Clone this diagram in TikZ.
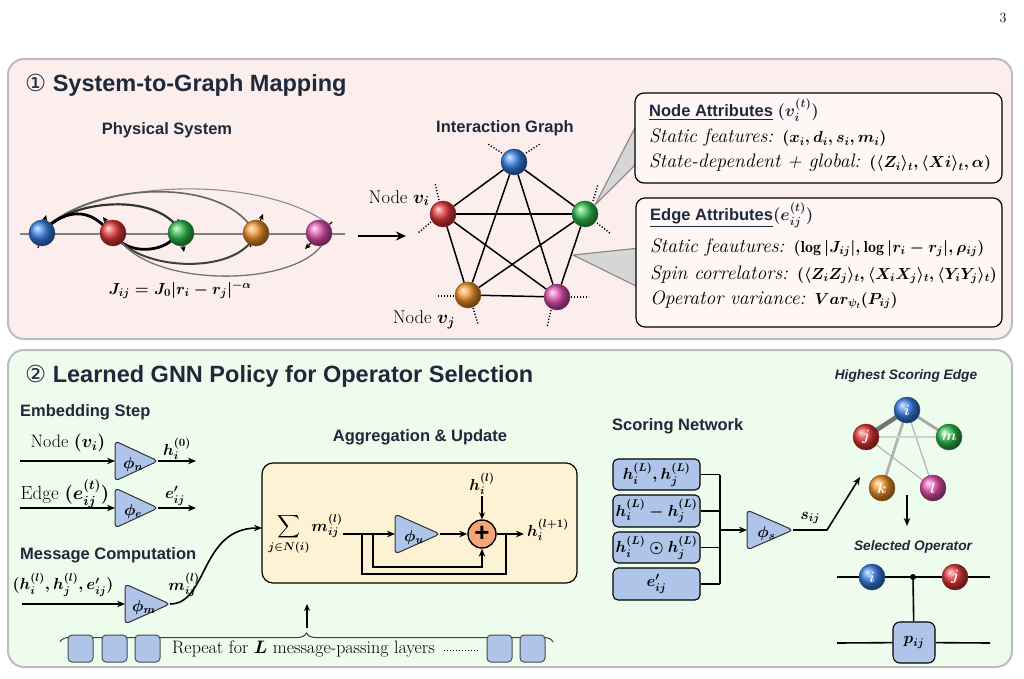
\RequirePackage{fix-cm}
\documentclass[tikz,border=0pt]{standalone}
\usepackage{amsmath,amssymb}
\usepackage{fontspec}
\newfontfamily\hdfont{Liberation Sans}
\newfontfamily\circfont{DejaVu Sans}
\usetikzlibrary{arrows.meta,calc,decorations.pathreplacing}
\pgfdeclarelayer{back}
\pgfdeclarelayer{bg}
\pgfsetlayers{back,bg,main}
\definecolor{pinkbg}{HTML}{FDEEEE}
\definecolor{pinkbox}{HTML}{FFF6F6}
\definecolor{greenbg}{HTML}{EEFCEE}
\definecolor{yellowbg}{HTML}{FDF3D4}
\definecolor{bluebox}{HTML}{AEC4E8}
\definecolor{orangeplus}{HTML}{F4A478}
\definecolor{headc}{HTML}{1E293B}
\definecolor{panelborder}{HTML}{BDBDBD}
\definecolor{blueS}{HTML}{3A80E6}
\definecolor{redS}{HTML}{E63838}
\definecolor{greenS}{HTML}{30BE4C}
\definecolor{orangeS}{HTML}{F2932A}
\definecolor{magS}{HTML}{E452B0}
\newcommand{\mth}[1]{{\fontsize{16}{19}\selectfont\boldmath$#1$}}
\tikzset{
  panelA/.style={rounded corners=16pt, fill=pinkbg, draw=panelborder, line width=2pt},
  panelB/.style={rounded corners=16pt, fill=greenbg, draw=panelborder, line width=2pt},
  ttl/.style={inner sep=0pt, anchor=west, text=headc, font=\hdfont\bfseries\fontsize{23.5}{27}\selectfont},
  hdtxt/.style={inner sep=0pt, text=headc, font=\hdfont\bfseries\fontsize{16.5}{19}\selectfont},
  ithd/.style={inner sep=0pt, text=headc, font=\hdfont\bfseries\itshape\fontsize{13.7}{16}\selectfont},
  rmtxt/.style={inner sep=0pt, font=\fontsize{18}{21}\selectfont\boldmath},
  mtxt/.style={inner sep=0pt, font=\fontsize{16}{19}\selectfont\boldmath},
  itx/.style={inner sep=0pt, anchor=west, font=\fontsize{19.5}{22}\selectfont\itshape},
  sph/.style={circle, inner sep=0pt, minimum size=26pt, ball color=#1, draw=#1!55!black, line width=0.5pt},
  slabel/.style={text=white, font=\fontsize{15}{15}\selectfont\boldmath},
  conn/.style={line width=1.6pt, -{Stealth[length=8pt,width=6.5pt]}},
  plain/.style={line width=1.6pt},
  gedge/.style={line width=1.5pt},
  stub/.style={line width=1.4pt, dash pattern=on 1.2pt off 1.8pt},
  spin/.style={line width=1.1pt, -{Stealth[length=6pt,width=5.5pt]}},
  gatestyle/.style={fill=bluebox, draw=black!80, line width=1pt, rounded corners=4pt},
  attbox/.style={rounded corners=9pt, fill=pinkbox, draw=black, line width=1.2pt},
  scbox/.style={rounded corners=5pt, fill=bluebox, draw=black, line width=1.1pt, inner sep=0pt, minimum width=87pt, font=\fontsize{16}{19}\selectfont\boldmath},
  sq/.style={rounded corners=4pt, fill=bluebox, draw=black!70, line width=1pt, minimum width=25pt, minimum height=27pt, inner sep=0pt},
  wedge/.style={fill=black!16, draw=black!45, line width=1.2pt, line join=round},
}
\newcommand{\gate}[5]{%
  \coordinate (#1-in) at (#2,#3);
  \coordinate (#1-out) at (#2+#4,#3);
  \draw[gatestyle] (#2,#3-20) -- (#2+#4,#3) -- (#2,#3+20) -- cycle;
  \node[mtxt] (#1) at (#2+0.42*#4,#3+3) {#5};
}
\begin{document}
\begin{tikzpicture}[x=1pt,y=-1pt]
\useasboundingbox (0,0) rectangle (1024,679);
\begin{pgfonlayer}{back}
\fill[white] (0,0) rectangle (1024,679);
\draw[panelA] (8,59) rectangle (1012,339);
\draw[panelB] (8,350) rectangle (1012,667);
\end{pgfonlayer}
\node[font=\fontsize{14}{14}\selectfont, inner sep=0pt] (pg) at (1003,18) {3};

% ---------- titles ----------
\node[ttl] (t1) at (25,85) {{\circfont\mdseries ①} System-to-Graph Mapping};
\node[ttl] (t2) at (25,376) {{\circfont\mdseries ②} Learned GNN Policy for Operator Selection};

% ---------- physical system ----------
\node[hdtxt] (phys) at (167,130) {Physical System};
\coordinate (axa) at (20,234);
\coordinate (axb) at (345,234);
\node[sph=blueS] (pb) at (42,233) {};
\node[sph=redS] (pr) at (113,233) {};
\node[sph=greenS] (pgr) at (181,233) {};
\node[sph=orangeS] (po) at (256,233) {};
\node[sph=magS] (pm) at (319,233) {};
\begin{pgfonlayer}{bg}
\draw[black!50, line width=1.3pt] (axa) -- (axb);
\draw[spin] ($(pb)+(-4,15)$) -- ($(pb)+(4,-18)$);
\draw[spin] ($(pr)+(10,12)$) -- ($(pr)+(-10,-16)$);
\draw[spin] ($(pgr)+(-3,-14)$) -- ($(pgr)+(3,19)$);
\draw[spin] ($(po)+(-6,14)$) -- ($(po)+(7,-19)$);
\draw[spin] ($(pm)+(13,-11)$) -- ($(pm)+(-14,16)$);
\draw[black!45, line width=1.1pt] (50,224) .. controls (110,178) and (265,176) .. (330,225);
\draw[black!60, line width=1.6pt] (50,224) .. controls (100,184) and (212,178) .. (249,224);
\draw[black!80, line width=2.2pt] (50,224) .. controls (82,200) and (148,196) .. (174,223);
\draw[black, line width=2.8pt] (50,225) .. controls (66,212) and (86,208) .. (104,226);
\draw[black, line width=2.8pt] (121,242) .. controls (135,253) and (160,251) .. (172,240);
\draw[black!75, line width=2pt] (121,242) .. controls (150,270) and (226,272) .. (250,243);
\draw[black!55, line width=1.3pt] (121,242) .. controls (160,288) and (292,286) .. (322,245);
\end{pgfonlayer}
\node[mtxt] (jform) at (180,290) {$J_{ij}=J_0|r_i-r_j|^{-\alpha}$};
\coordinate (ba) at (358,236);
\coordinate (bb) at (406,236);
\draw[line width=2.6pt, -{Stealth[length=10pt,width=9pt]}] (ba) -- (bb);

% ---------- interaction graph ----------
\node[hdtxt] (igr) at (505,128) {Interaction Graph};
\node[sph=blueS] (g1) at (514,162) {};
\node[sph=redS] (g2) at (443,214) {};
\node[sph=greenS] (g3) at (585,214) {};
\node[sph=orangeS] (g4) at (468,295) {};
\node[sph=magS] (g5) at (557,297) {};
\foreach \a/\b in {g1/g2,g1/g3,g1/g4,g1/g5,g2/g3,g2/g4,g2/g5,g3/g4,g3/g5,g4/g5}
  \draw[gedge] (\a) -- (\b);
\draw[stub] ($(g1)+(-12,-9)$) -- ($(g1)+(-26,-18)$);
\draw[stub] ($(g1)+(12,-9)$) -- ($(g1)+(26,-18)$);
\draw[stub] ($(g2)+(-4,-14)$) -- ($(g2)+(-8,-31)$);
\draw[stub] ($(g2)+(-12,8)$) -- ($(g2)+(-25,19)$);
\draw[stub] ($(g3)+(8,-13)$) -- ($(g3)+(13,-30)$);
\draw[stub] ($(g3)+(12,9)$) -- ($(g3)+(26,20)$);
\draw[stub] ($(g4)+(-14,1)$) -- ($(g4)+(-31,1)$);
\draw[stub] ($(g4)+(5,13)$) -- ($(g4)+(10,29)$);
\draw[stub] ($(g5)+(14,0)$) -- ($(g5)+(32,0)$);
\draw[stub] ($(g5)+(-6,13)$) -- ($(g5)+(-10,30)$);
\node[rmtxt, font=\fontsize{18.5}{21}\selectfont\boldmath] (nvi) at (399,198) {Node $v_i$};
\node[rmtxt, font=\fontsize{18.5}{21}\selectfont\boldmath] (nvj) at (424,320) {Node $v_j$};

% ---------- attribute boxes ----------
\coordinate (wa) at (595,205);
\coordinate (wb) at (573,255);
\path[wedge] (wa) -- (640,118) -- (640,160) -- cycle;
\path[wedge] (wb) -- (640,248) -- (640,288) -- cycle;
\node[attbox, minimum width=367pt, minimum height=90pt] (nab) at (818.5,138) {};
\node[attbox, minimum width=366pt, minimum height=129pt] (eab) at (819,262.5) {};
\node[hdtxt, anchor=west] (nah) at (649,110) {\underline{Node Attributes}\ {\fontsize{17}{19}\selectfont\boldmath$(v_i^{(t)})$}};
\node[itx] (na1) at (649,138) {Static features: \mth{(x_i,d_i,s_i,m_i)}};
\node[itx] (na2) at (649,163) {State-dependent + global: \mth{(\langle Z_i\rangle_t,\langle Xi\rangle_t,\alpha)}};
\node[hdtxt, anchor=west] (eah) at (650,215) {\underline{Edge Attributes}{\fontsize{17}{19}\selectfont\boldmath$(e_{ij}^{(t)})$}};
\node[itx] (ea1) at (650,248) {Static feautures: \mth{(\log|J_{ij}|,\log|r_i-r_j|,\rho_{ij})}};
\node[itx] (ea2) at (650,275) {Spin correlators: \mth{(\langle Z_iZ_j\rangle_t,\langle X_iX_j\rangle_t,\langle Y_iY_j\rangle_t)}};
\node[itx] (ea3) at (650,300) {Operator variance: \mth{Var_{\psi_t}(P_{ij})}};

% ---------- embedding ----------
\node[hdtxt, anchor=west] (emb) at (20,412) {Embedding Step};
\node[rmtxt] (nodein) at (68,443) {Node $(v_i)$};
\coordinate (nin) at (20,461);
\gate{phin}{115}{461}{43}{$\phi_n$}
\coordinate (nout) at (196,461);
\draw[conn] (nin) -- (phin-in);
\draw[conn] (phin-out) -- (nout);
\node[mtxt] (h0) at (177,449) {$h_i^{(0)}$};

\node[rmtxt, font=\fontsize{19}{22}\selectfont\boldmath] (edgein) at (65,494) {Edge $(e_{ij}^{(t)})$};
\coordinate (ein) at (20,508);
\gate{phie}{115}{508}{43}{$\phi_e$}
\coordinate (eout) at (196,508);
\draw[conn] (ein) -- (phie-in);
\draw[conn] (phie-out) -- (eout);
\node[mtxt] (ep) at (175,496) {$e'_{ij}$};

\node[hdtxt, anchor=west] (msg) at (20,555) {Message Computation};
\node[mtxt] (msgin) at (63,585) {$(h_i^{(l)},h_j^{(l)},e'_{ij})$};
\coordinate (min) at (22,604);
\gate{phim}{125}{604}{45}{$\phi_m$}
\draw[conn] (min) -- (phim-in);
\node[mtxt] (mij) at (184,585) {$m_{ij}^{(l)}$};

% ---------- aggregation ----------
\node[hdtxt] (aggt) at (420,437) {Aggregation \& Update};
\node[rounded corners=11pt, fill=yellowbg, draw=black, line width=1.2pt, minimum width=315pt, minimum height=120pt] (agg) at (419.5,523) {};
\coordinate (aggin) at (262,528);
\draw[conn] (phim-out) .. controls (208,604) and (200,528) .. (aggin);
\node[mtxt] (sum) at (289,534) {$\displaystyle\sum_{j\in N(i)}$};
\node[mtxt] (magg) at (327,526) {$m_{ij}^{(l)}$};
\coordinate (ms) at (343,534);
\gate{phiu}{395}{534}{45}{$\phi_u$}
\node[circle, fill=orangeplus, draw=black, line width=1.4pt, minimum size=28pt, inner sep=0pt, font=\hdfont\bfseries\fontsize{26}{26}\selectfont] (plus) at (482,534) {\raisebox{1pt}{+}};
\draw[conn] (ms) -- (phiu-in);
\draw[conn] (phiu-out) -- (plus);
\node[mtxt] (hil) at (482,484) {$h_i^{(l)}$};
\coordinate (hilb) at (482,496);
\draw[line width=1.4pt, -{Stealth[length=7pt,width=6pt]}] (hilb) -- (plus.north);
\coordinate (hout) at (524,534);
\draw[conn] (plus) -- (hout);
\node[mtxt, anchor=west] (hnext) at (527,530) {$h_i^{(l+1)}$};
\coordinate (l1a) at (373,534);
\coordinate (l1b) at (373,567);
\coordinate (l1c) at (482,567);
\draw[conn] (l1a) -- (l1b) -- (l1c) -- (plus.south);
\coordinate (l2a) at (362,534);
\coordinate (l2b) at (362,574);
\coordinate (l2c) at (506,574);
\coordinate (l2d) at (506,534);
\draw[plain] (l2a) -- (l2b) -- (l2c) -- (l2d);

% ---------- repeat bar ----------
\coordinate (br1) at (60,642);
\coordinate (br2) at (553,642);
\draw[decorate, decoration={brace, amplitude=9pt}, line width=1pt, draw=black!75] (br1) -- (br2);
\coordinate (rpa) at (307,628);
\coordinate (rpb) at (307,604);
\draw[line width=1.4pt, -{Stealth[length=7pt,width=6pt]}] (rpa) -- (rpb);
\node[sq] (s1) at (80.5,648.5) {};
\node[sq] (s2) at (114.5,648.5) {};
\node[sq] (s3) at (147.5,648.5) {};
\node[sq] (s4) at (499.5,648.5) {};
\node[sq] (s5) at (532.5,648.5) {};
\node[rmtxt, anchor=west] (rpt) at (172,649) {Repeat for $L$ message-passing layers};
\coordinate (dt1) at (444,650);
\coordinate (dt2) at (480,650);
\draw[line width=0.9pt, dash pattern=on 0.9pt off 2.1pt] (dt1) -- (dt2);

% ---------- scoring network ----------
\node[hdtxt, anchor=west] (scn) at (612,426) {Scoring Network};
\node[scbox, minimum height=31pt] (b1) at (656.5,474.5) {$h_i^{(L)}, h_j^{(L)}$};
\node[scbox, minimum height=32pt] (b2) at (656.5,511) {$h_i^{(L)} - h_j^{(L)}$};
\node[scbox, minimum height=31pt] (b3) at (656.5,547.5) {$h_i^{(L)}\odot h_j^{(L)}$};
\node[scbox, minimum height=32pt] (b4) at (656.5,584) {$e'_{ij}$};
\coordinate (bus1) at (720,474.5);
\coordinate (bus2) at (720,511);
\coordinate (bus3) at (720,547.5);
\coordinate (bus4) at (720,584);
\coordinate (busm) at (720,530);
\draw[plain] (b1.east) -- (bus1);
\draw[plain] (b2.east) -- (bus2);
\draw[plain] (b3.east) -- (bus3);
\draw[plain] (b4.east) -- (bus4);
\draw[plain] (bus1) -- (bus4);
\gate{phis}{747}{530}{46}{$\phi_s$}
\draw[conn] (busm) -- (phis-in);
\coordinate (sbend) at (827,530);
\coordinate (sarr) at (860,477);
\draw[conn] (phis-out) -- (sbend) -- (sarr);
\node[mtxt] (sij) at (810,518) {$s_{ij}$};

% ---------- highest scoring edge ----------
\node[ithd] (hse) at (906,376) {Highest Scoring Edge};
\node[sph=blueS, slabel] (hi) at (907,410) {$i$};
\node[sph=redS, slabel] (hj) at (866,437) {$j$};
\node[sph=greenS, slabel] (hm) at (949,437) {$m$};
\node[sph=orangeS, slabel] (hk) at (882,488) {$k$};
\node[sph=magS, slabel] (hl) at (933,488) {$l$};
\begin{pgfonlayer}{bg}
\draw[black!55, line width=4.5pt] (hi.center) -- (hj.center);
\draw[black!35, line width=2.8pt] (hi.center) -- (hm.center);
\draw[black!30, line width=2.8pt] (hi.center) -- (hk.center);
\draw[black!28, line width=1.3pt] (hi.center) -- (hl.center);
\draw[black!18, line width=1.1pt] (hj.center) -- (hm.center);
\draw[black!30, line width=1.1pt] (hj.center) -- (hl.center);
\end{pgfonlayer}
\coordinate (dn1) at (907,495);
\coordinate (dn2) at (907,526);
\draw[conn] (dn1) -- (dn2);
\node[ithd] (selop) at (913,547) {Selected Operator};
\coordinate (w1a) at (837,577);
\coordinate (w1b) at (990,577);
\coordinate (w2a) at (837,643);
\coordinate (w2b) at (990,643);
\node[sph=blueS, slabel] (ci) at (872,577) {$i$};
\node[sph=redS, slabel] (cj) at (955,577) {$j$};
\node[circle, fill=black, inner sep=0pt, minimum size=6pt] (cdot) at (913,577) {};
\node[scbox, minimum width=42pt, minimum height=41pt, rounded corners=7pt] (pbox) at (914,642.5) {$p_{ij}$};
\draw[plain] (w1a) -- (ci);
\draw[plain] (ci) -- (cj);
\draw[plain] (cj) -- (w1b);
\draw[plain] (w2a) -- (pbox);
\draw[plain] (pbox) -- (w2b);
\draw[plain] (cdot.center) -- (pbox);
\end{tikzpicture}
\end{document}
